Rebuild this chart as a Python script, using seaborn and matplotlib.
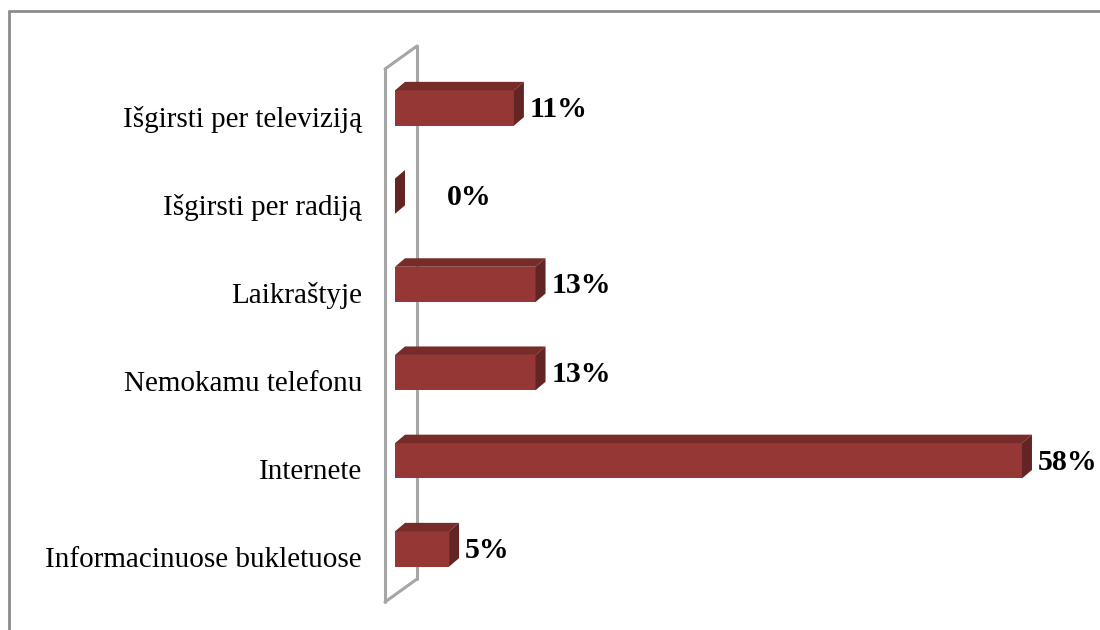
import matplotlib
matplotlib.use('Agg')
import matplotlib.pyplot as plt
import seaborn as sns
import pandas as pd
from matplotlib.patches import Polygon
from matplotlib.lines import Line2D
from matplotlib.transforms import ScaledTranslation

categories = ["Išgirsti per televiziją", "Išgirsti per radiją", "Laikraštyje",
              "Nemokamu telefonu", "Internete", "Informacinuose bukletuose"]
values = [11, 0, 13, 13, 58, 5]
value_labels = [f"{v}%" for v in values]

FRONT = '#953735'
TOP = '#772c2a'
SIDE = '#632523'
WALL = '#a6a6a6'

sns.set_theme(style='white')
plt.rcParams['font.family'] = ['Liberation Serif', 'DejaVu Serif']

W, H = 1100, 630
fig = plt.figure(figsize=(11, 6.3), dpi=100)
ax_l, ax_r, ax_t, ax_b = 385, 1080, 69, 602
ax = fig.add_axes([ax_l / W, 1 - ax_b / H, (ax_r - ax_l) / W, (ax_b - ax_t) / H])

df = pd.DataFrame({'cat': categories, 'val': values})
sns.barplot(data=df, x='val', y='cat', orient='h', color=FRONT, width=0.4,
            saturation=1, ax=ax, zorder=3, linewidth=0)

ppx = 10.81      # pixels per percent
zero_px = 395
ppy = 88.2       # pixels per category
ax.set_xlim((ax_l - zero_px) / ppx, (ax_r - zero_px) / ppx)
ax.set_ylim(5 + (ax_b - 549) / ppy, -(108 - ax_t) / ppy)

dx = 10 / ppx
dy = 8.5 / ppy

for p, lab, v in zip(ax.patches, value_labels, values):
    x0, w, y0, h = p.get_x(), p.get_width(), p.get_y(), p.get_height()
    top = Polygon([(x0, y0), (x0 + dx, y0 - dy), (x0 + w + dx, y0 - dy), (x0 + w, y0)],
                  closed=True, facecolor=TOP, edgecolor='none', zorder=3)
    side = Polygon([(x0 + w, y0), (x0 + w + dx, y0 - dy), (x0 + w + dx, y0 + h - dy), (x0 + w, y0 + h)],
                   closed=True, facecolor=SIDE, edgecolor='none', zorder=3)
    ax.add_patch(top)
    ax.add_patch(side)
    gap = 52 / ppx if v == 0 else (dx + 6 / ppx)
    ax.text(x0 + w + gap, y0 + h / 2 + 1.5 / ppy, lab, ha='left', va='center',
            fontsize=21.5, fontweight='bold', color='black', zorder=5)

# 3D wall
bx = 32 / (ax_r - ax_l)
by = 23 / (ax_b - ax_t)
wall_kw = dict(transform=ax.transAxes, color=WALL, lw=2.2, clip_on=False, zorder=1)
ax.plot([0, 0], [0, 1], **wall_kw)
ax.plot([bx, bx], [by, 1 + by], **wall_kw)
ax.plot([0, bx], [1, 1 + by], **wall_kw)
ax.plot([0, bx], [0, by], **wall_kw)

for s in ax.spines.values():
    s.set_visible(False)
ax.xaxis.set_visible(False)
ax.set_ylabel('')
ax.tick_params(axis='y', length=0, pad=16.5, labelsize=21, labelcolor='black')
shift = ScaledTranslation(0, -8 / 100, fig.dpi_scale_trans)
for t in ax.get_yticklabels():
    t.set_transform(t.get_transform() + shift)

# figure border (left and top)
fig.add_artist(Line2D([8.5 / W, 8.5 / W], [0, 1 - 11 / H], color='#8c8c8c', lw=2))
fig.add_artist(Line2D([8.5 / W, 1], [1 - 11 / H, 1 - 11 / H], color='#8c8c8c', lw=2))

fig.savefig('out.png', dpi=100)
